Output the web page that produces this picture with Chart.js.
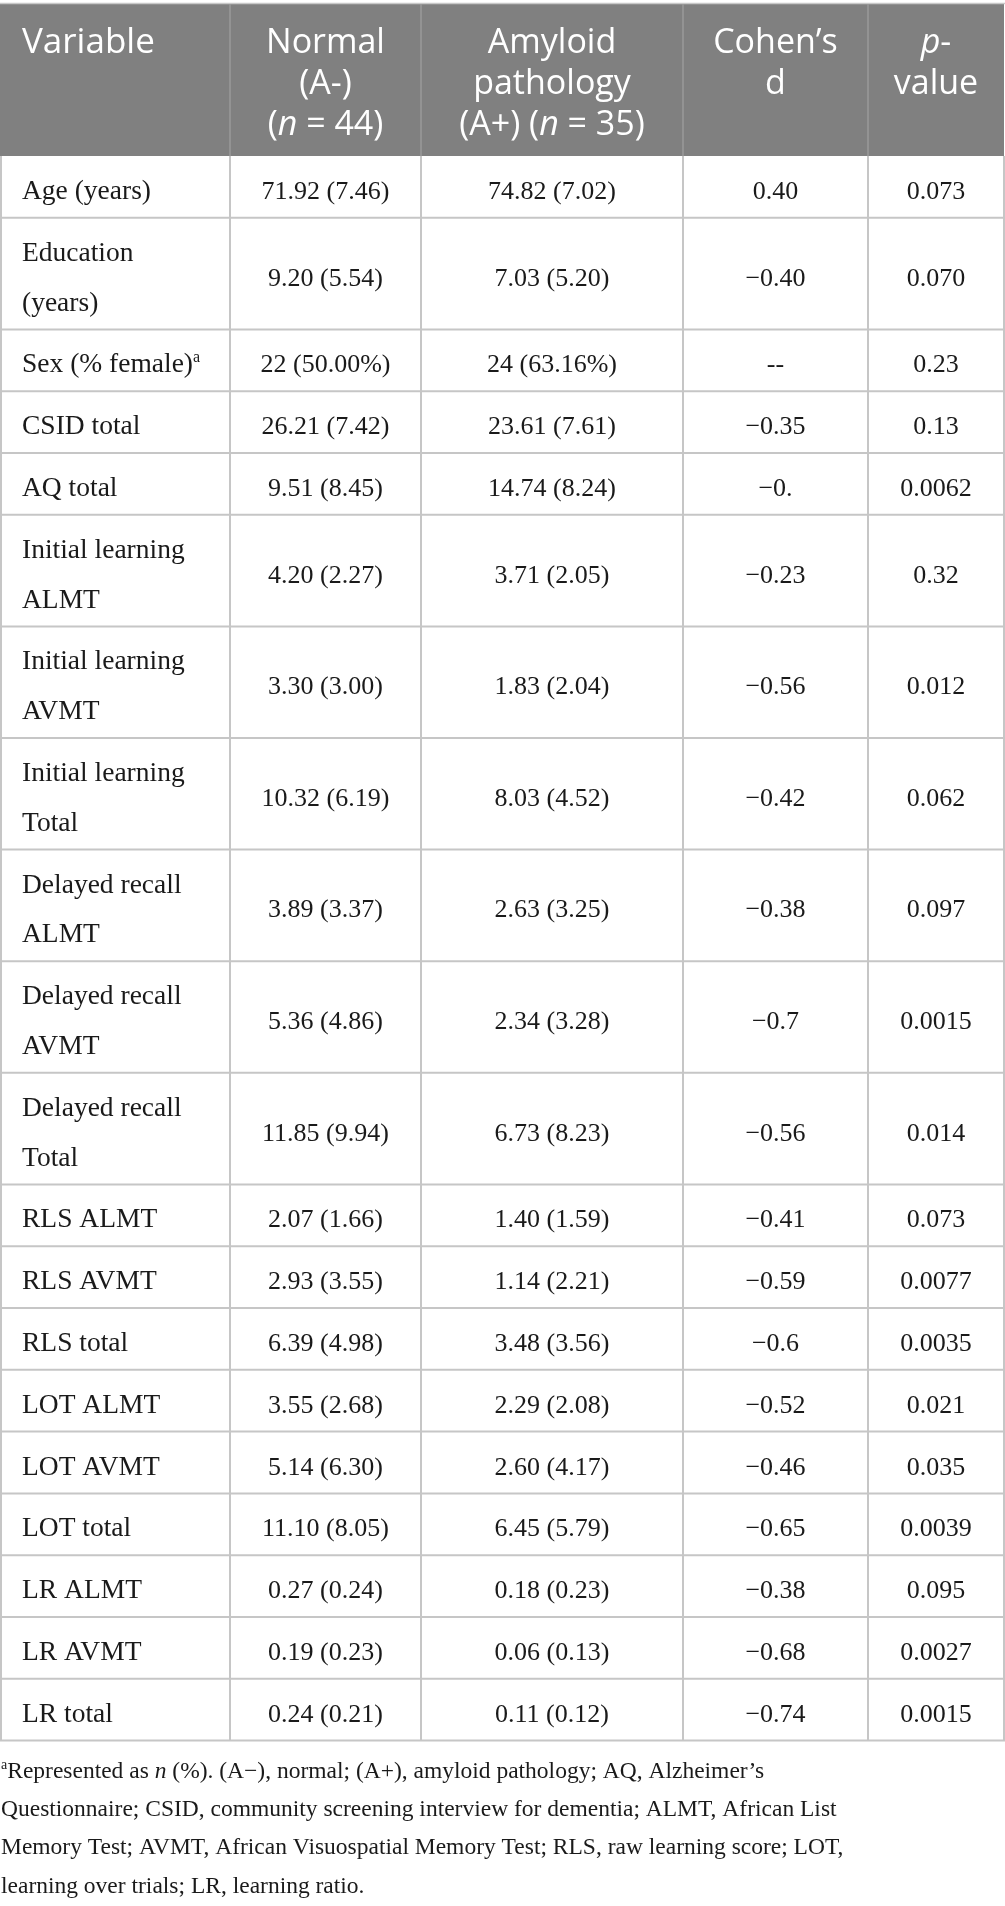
<!DOCTYPE html>
<html>
<head>
<meta charset="utf-8">
<script src="https://cdn.jsdelivr.net/npm/chart.js@4.4.0/dist/chart.umd.min.js"></script>
<style>
  html, body { margin: 0; padding: 0; background: #fff; }
  #tbl { display: block; }
</style>
</head>
<body>
<canvas id="tbl" width="1005" height="1906"></canvas>
<script>
// column headers ('*' toggles italic, '|' breaks a line)
var headers = ['Variable', 'Normal|(A-)|(*n* = 44)', 'Amyloid|pathology|(A+) (*n* = 35)', 'Cohen\u2019s|d', '*p*-|value'];

// rows ('^' = superscript next char)
var variables = [
    'Age (years)', 'Education|(years)', 'Sex (% female)^a', 'CSID total', 'AQ total',
    'Initial learning|ALMT', 'Initial learning|AVMT', 'Initial learning|Total',
    'Delayed recall|ALMT', 'Delayed recall|AVMT', 'Delayed recall|Total',
    'RLS ALMT', 'RLS AVMT', 'RLS total', 'LOT ALMT', 'LOT AVMT', 'LOT total',
    'LR ALMT', 'LR AVMT', 'LR total'
];
var normalVals = ['71.92 (7.46)', '9.20 (5.54)', '22 (50.00%)', '26.21 (7.42)', '9.51 (8.45)',
    '4.20 (2.27)', '3.30 (3.00)', '10.32 (6.19)', '3.89 (3.37)', '5.36 (4.86)', '11.85 (9.94)',
    '2.07 (1.66)', '2.93 (3.55)', '6.39 (4.98)', '3.55 (2.68)', '5.14 (6.30)', '11.10 (8.05)',
    '0.27 (0.24)', '0.19 (0.23)', '0.24 (0.21)'];
var amyloidVals = ['74.82 (7.02)', '7.03 (5.20)', '24 (63.16%)', '23.61 (7.61)', '14.74 (8.24)',
    '3.71 (2.05)', '1.83 (2.04)', '8.03 (4.52)', '2.63 (3.25)', '2.34 (3.28)', '6.73 (8.23)',
    '1.40 (1.59)', '1.14 (2.21)', '3.48 (3.56)', '2.29 (2.08)', '2.60 (4.17)', '6.45 (5.79)',
    '0.18 (0.23)', '0.06 (0.13)', '0.11 (0.12)'];
var cohensD = ['0.40', '\u22120.40', '--', '\u22120.35', '\u22120.', '\u22120.23', '\u22120.56', '\u22120.42',
    '\u22120.38', '\u22120.7', '\u22120.56', '\u22120.41', '\u22120.59', '\u22120.6', '\u22120.52',
    '\u22120.46', '\u22120.65', '\u22120.38', '\u22120.68', '\u22120.74'];
var pValues = ['0.073', '0.070', '0.23', '0.13', '0.0062', '0.32', '0.012', '0.062', '0.097', '0.0015',
    '0.014', '0.073', '0.0077', '0.0035', '0.021', '0.035', '0.0039', '0.095', '0.0027', '0.0015'];

var footnote = [
    '^aRepresented as *n* (%). (A\u2212), normal; (A+), amyloid pathology; AQ, Alzheimer\u2019s',
    'Questionnaire; CSID, community screening interview for dementia; ALMT, African List',
    'Memory Test; AVMT, African Visuospatial Memory Test; RLS, raw learning score; LOT,',
    'learning over trials; LR, learning ratio.'
];

// layout (scale units)
var colEdges = [0, 230, 421, 683, 868, 1004];
var headTop = 4, headBottom = 156;
var lineH = 49.8, rowPad = 12;
var serif = '"Liberation Serif", "DejaVu Serif", serif';
var sans = '"Open Sans", "Noto Sans", sans-serif';

function parseRich(str) {
    var segs = [], italic = false, buf = '';
    for (var i = 0; i < str.length; i++) {
        var c = str[i];
        if (c === '*') {
            if (buf) segs.push({ t: buf, i: italic });
            buf = ''; italic = !italic;
        } else if (c === '^') {
            if (buf) segs.push({ t: buf, i: italic });
            buf = '';
            segs.push({ t: str[++i], i: italic, sup: true });
        } else buf += c;
    }
    if (buf) segs.push({ t: buf, i: italic });
    return segs;
}

function fontFor(seg, size, family) {
    var s = seg.sup ? Math.round(size * 0.58) : size;
    return (seg.i ? 'italic ' : '') + s + 'px ' + family;
}

function drawRich(ctx, str, x, y, align, size, family) {
    var segs = parseRich(str);
    var w = 0;
    segs.forEach(function (s) {
        ctx.font = fontFor(s, size, family);
        s.w = ctx.measureText(s.t).width;
        w += s.w;
    });
    var cx = align === 'center' ? x - w / 2 : x;
    ctx.textAlign = 'left';
    ctx.textBaseline = 'alphabetic';
    segs.forEach(function (s) {
        ctx.font = fontFor(s, size, family);
        ctx.fillText(s.t, cx, s.sup ? y - size * 0.36 : y);
        cx += s.w;
    });
}

var tablePlugin = {
    id: 'tablePlugin',
    afterDraw: function (chart) {
        var ctx = chart.ctx, xs = chart.scales.x, ys = chart.scales.y;
        var X = function (v) { return xs.getPixelForValue(v); };
        var Y = function (v) { return ys.getPixelForValue(v); };

        // row bounds
        var tops = [], bottoms = [];
        var y = headBottom;
        variables.forEach(function (v) {
            var n = v.split('|').length;
            tops.push(y);
            y += rowPad + lineH * n;
            bottoms.push(y);
        });
        var tableBottom = y;

        ctx.save();
        // header band
        ctx.fillStyle = '#808080';
        ctx.fillRect(X(colEdges[0]), Y(headTop), X(colEdges[5]) - X(colEdges[0]), Y(headBottom) - Y(headTop));
        ctx.strokeStyle = '#c8c8c8';
        ctx.lineWidth = 1.5;
        ctx.beginPath();
        ctx.moveTo(X(0), Y(headTop) - 0.5); ctx.lineTo(X(1005), Y(headTop) - 0.5);
        ctx.stroke();
        ctx.strokeStyle = '#9a9a9a';
        ctx.lineWidth = 1.5;
        for (var c = 1; c < 5; c++) {
            ctx.beginPath();
            ctx.moveTo(X(colEdges[c]), Y(headTop));
            ctx.lineTo(X(colEdges[c]), Y(headBottom));
            ctx.stroke();
        }

        // header text
        ctx.fillStyle = '#ffffff';
        headers.forEach(function (h, c) {
            h.split('|').forEach(function (line, k) {
                var by = Y(headTop + 49 + 41 * k);
                if (c === 0) drawRich(ctx, line, X(colEdges[0] + 22), by, 'left', 35, sans);
                else drawRich(ctx, line, X((colEdges[c] + colEdges[c + 1]) / 2), by, 'center', 34, sans);
            });
        });

        // grid
        ctx.strokeStyle = '#c6c6c6';
        ctx.lineWidth = 2;
        bottoms.forEach(function (b) {
            ctx.beginPath();
            ctx.moveTo(X(0), Y(b)); ctx.lineTo(X(1005), Y(b));
            ctx.stroke();
        });
        colEdges.forEach(function (e, c) {
            var ex = c === 0 ? e + 1 : e;
            ctx.beginPath();
            ctx.moveTo(X(ex), Y(headBottom)); ctx.lineTo(X(ex), Y(tableBottom));
            ctx.stroke();
        });

        // body text
        ctx.fillStyle = '#1a1a1a';
        var cols = [normalVals, amyloidVals, cohensD, pValues];
        variables.forEach(function (v, r) {
            var mid = (tops[r] + bottoms[r]) / 2;
            var lines = v.split('|');
            lines.forEach(function (line, k) {
                var by = mid + 12 + (k - (lines.length - 1) / 2) * lineH;
                drawRich(ctx, line, X(22), Y(by), 'left', 27.5, serif);
            });
            cols.forEach(function (arr, c) {
                var cx = (colEdges[c + 1] + colEdges[c + 2]) / 2;
                drawRich(ctx, arr[r], X(cx), Y(mid + 12), 'center', 26, serif);
            });
        });

        // footnote
        footnote.forEach(function (line, k) {
            drawRich(ctx, line, X(1), Y(tableBottom + 37 + 38.3 * k), 'left', 23.5, serif);
        });
        ctx.restore();
    }
};

new Chart(document.getElementById('tbl'), {
    type: 'scatter',
    data: { datasets: [] },
    options: {
        responsive: false,
        animation: false,
        layout: { padding: 0 },
        plugins: { legend: { display: false }, tooltip: { enabled: false } },
        scales: {
            x: { type: 'linear', min: 0, max: 1005, display: false },
            y: { type: 'linear', min: 0, max: 1906, reverse: true, display: false }
        }
    },
    plugins: [tablePlugin]
});
</script>
</body>
</html>
